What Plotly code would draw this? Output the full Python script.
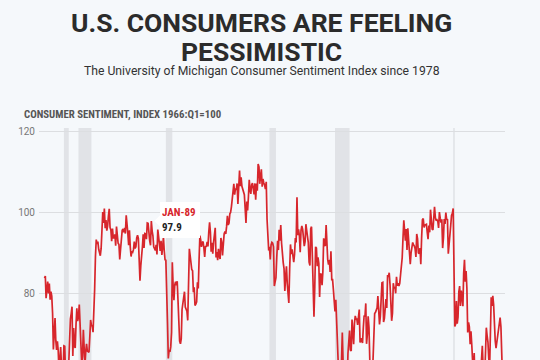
import pandas as pd
import plotly.graph_objects as go

# ---------------- data ----------------
sentiment_1978_1989 = [
    83.7, 84.3, 78.8, 81.6, 82.9, 80.0, 82.4, 78.4, 80.4, 79.3, 75.0, 66.1,
    72.1, 73.9, 68.4, 66.0, 68.1, 65.8, 60.4, 64.5, 66.7, 62.1, 63.3, 61.0,
    67.0, 66.9, 56.5, 52.7, 51.7, 58.7, 62.3, 67.3, 73.7, 75.0, 76.7, 64.5,
    71.4, 66.9, 66.5, 72.4, 76.3, 73.1, 74.1, 77.2, 73.1, 70.3, 62.5, 64.3,
    71.0, 66.5, 62.0, 65.5, 67.5, 65.7, 65.4, 65.4, 69.3, 73.4, 72.1, 71.9,
    70.4, 74.6, 80.8, 89.1, 93.3, 92.2, 92.8, 90.9, 89.9, 89.3, 91.1, 94.2,
    100.1, 97.4, 101.0, 96.1, 98.1, 95.5, 96.6, 99.1, 100.9, 96.3, 95.7, 92.9,
    96.0, 93.7, 93.7, 94.6, 91.8, 96.5, 94.0, 92.4, 92.1, 88.4, 90.9, 93.9,
    95.6, 95.9, 95.1, 96.2, 94.8, 99.3, 97.7, 94.9, 91.9, 95.6, 91.4, 89.1,
    90.4, 90.2, 90.8, 92.8, 91.1, 91.5, 93.7, 94.4, 93.6, 89.3, 83.1, 86.8,
    90.8, 91.6, 94.6, 91.2, 94.8, 94.7, 93.4, 97.4, 97.3, 94.1, 93.0, 91.9,
    97.9, 95.4, 94.3, 91.5, 90.7, 90.6, 92.0, 89.6, 95.8, 93.9, 90.9, 90.5,
]
sentiment_1990_2001 = [
    93.0, 89.5, 91.3, 93.9, 90.6, 88.3, 88.2, 76.4, 72.8, 63.9, 66.0, 65.5,
    66.8, 70.4, 87.7, 81.8, 78.3, 82.1, 82.9, 82.0, 83.0, 78.3, 69.1, 68.2,
    67.5, 68.8, 76.0, 77.2, 79.2, 80.4, 76.6, 76.1, 75.6, 73.3, 85.3, 91.0,
    89.3, 86.6, 85.9, 85.6, 80.3, 81.5, 77.0, 77.3, 77.9, 82.7, 81.2, 88.2,
    94.3, 93.2, 91.5, 92.6, 92.8, 91.2, 89.0, 91.7, 91.5, 92.7, 91.6, 95.1,
    97.6, 95.1, 90.3, 92.5, 89.8, 92.7, 94.4, 96.2, 88.9, 90.2, 88.2, 91.0,
    89.3, 88.5, 93.7, 92.7, 89.4, 92.4, 94.7, 95.3, 94.7, 96.5, 99.2, 96.9,
    97.4, 99.7, 100.0, 101.4, 103.2, 104.5, 107.1, 104.4, 106.0, 105.6, 107.2, 102.1,
    106.6, 110.4, 106.5, 108.7, 106.5, 105.6, 105.2, 104.4, 100.9, 97.4, 102.7, 100.5,
    103.9, 108.1, 105.7, 104.6, 106.8, 107.3, 106.0, 104.5, 107.2, 103.2, 107.2, 105.4,
    112.0, 111.3, 107.1, 109.2, 110.7, 106.4, 108.3, 107.3, 106.8, 105.8, 107.6, 98.4,
    94.7, 90.6, 91.5, 88.4, 92.0, 92.6, 92.4, 91.5, 81.8, 82.7, 83.9, 88.8,
]
sentiment_2002_2013 = [
    93.0, 90.7, 95.7, 93.0, 96.9, 92.4, 88.1, 87.6, 86.1, 80.6, 84.2, 86.7,
    82.4, 79.9, 77.6, 86.0, 92.1, 89.7, 90.9, 89.3, 87.7, 89.6, 93.7, 92.6,
    103.8, 94.4, 95.8, 94.2, 90.2, 95.6, 96.7, 95.9, 94.2, 91.7, 92.8, 97.1,
    95.5, 94.1, 92.6, 87.7, 86.9, 96.0, 96.5, 89.1, 76.9, 74.2, 81.6, 91.5,
    91.2, 86.7, 88.9, 87.4, 79.1, 84.9, 84.7, 82.0, 85.4, 93.6, 92.1, 91.7,
    96.9, 91.3, 88.4, 87.1, 88.3, 85.3, 90.4, 83.4, 83.4, 80.9, 76.1, 75.5,
    78.4, 70.8, 69.5, 62.6, 59.8, 56.4, 61.2, 63.0, 70.3, 57.6, 55.3, 60.1,
    61.2, 56.3, 57.3, 65.1, 68.7, 70.8, 66.0, 65.7, 73.5, 70.6, 67.4, 72.5,
    74.4, 73.6, 73.6, 72.2, 73.6, 76.0, 67.8, 68.9, 68.2, 67.7, 71.6, 74.5,
    74.2, 77.5, 67.5, 69.8, 74.3, 71.5, 63.7, 55.8, 59.5, 60.8, 63.7, 69.9,
    75.0, 75.3, 76.2, 76.4, 79.3, 73.2, 72.3, 74.3, 78.3, 82.6, 82.7, 72.9,
    73.8, 77.6, 78.6, 76.4, 84.5, 84.1, 85.1, 82.1, 77.5, 73.2, 75.1, 82.5,
]
sentiment_2014_2025 = [
    81.2, 81.6, 80.0, 84.1, 81.9, 82.5, 81.8, 82.5, 84.6, 86.9, 88.8, 93.6,
    98.1, 95.4, 93.0, 95.9, 90.7, 96.1, 93.1, 91.9, 87.2, 90.0, 91.3, 92.6,
    92.0, 91.7, 91.0, 89.0, 94.7, 93.5, 90.0, 89.8, 91.2, 87.2, 93.8, 98.2,
    98.5, 96.3, 96.9, 97.0, 97.1, 95.1, 93.4, 96.8, 95.1, 100.7, 98.5, 95.9,
    95.7, 99.7, 101.4, 98.8, 98.0, 98.2, 97.9, 96.2, 100.1, 98.6, 97.5, 98.3,
    91.2, 93.8, 98.4, 97.2, 100.0, 98.2, 98.4, 89.8, 93.2, 95.5, 96.8, 99.3,
    99.8, 101.0, 89.1, 71.8, 72.3, 78.1, 72.5, 74.1, 80.4, 81.8, 76.9, 80.7,
    79.0, 76.8, 84.9, 88.3, 82.9, 85.5, 81.2, 70.3, 72.8, 71.7, 67.4, 70.6,
    67.2, 62.8, 59.4, 65.2, 58.4, 50.0, 51.5, 58.2, 58.6, 59.9, 56.8, 59.7,
    64.9, 67.0, 62.0, 63.5, 59.2, 64.4, 71.5, 69.5, 67.9, 63.8, 61.3, 69.7,
    79.0, 76.9, 79.4, 77.2, 69.1, 68.2, 66.4, 67.9, 70.1, 70.5, 71.8, 74.0,
    71.7, 64.7, 57.0, 52.2,
]
sentiment = sentiment_1978_1989 + sentiment_1990_2001 + sentiment_2002_2013 + sentiment_2014_2025
months = pd.date_range("1978-01-01", periods=len(sentiment), freq="MS")

recession_starts = ["1980-01-01", "1981-07-01", "1990-07-01", "2001-03-01", "2007-12-01", "2020-02-01"]
recession_ends = ["1980-07-01", "1982-11-01", "1991-03-01", "2001-11-01", "2009-06-01", "2020-04-01"]

y_ticks = [40, 60, 80, 100, 120]
x_ticks = ["1980-01-01", "1990-01-01", "2000-01-01", "2010-01-01", "2020-01-01"]
x_tick_labels = ["1980", "1990", "2000", "2010", "2020"]

highlight_date = "1989-01-01"
highlight_label = "JAN-89"

title_line1 = "U.S. CONSUMERS ARE FEELING"
title_line2 = "PESSIMISTIC"
subtitle = "The University of Michigan Consumer Sentiment Index since 1978"
y_title = "CONSUMER SENTIMENT, INDEX 1966:Q1=100"

# ---------------- styling ----------------
BG = "#f5f8fb"
RED = "#d7262c"
BAND = "#e1e3e7"
GRID = "#dcdee1"
TITLE_FONT = "Roboto, Inter, 'Liberation Sans', sans-serif"
NARROW_FONT = "'Liberation Sans Narrow', 'Roboto Condensed', 'DejaVu Sans Condensed', Roboto, sans-serif"

W = 540
H = 500
M_L, M_R = 39, 35
M_TOP = 128
M_BOT = 45
PX_PER_UNIT = 4.04
Y_TOP = 120.92
TEXT_CENTER_PX = 261.5  # horizontal centre of the heading block
title_x = (TEXT_CENTER_PX - M_L) / (W - M_L - M_R)

fig = go.Figure()

fig.add_trace(go.Scatter(
    x=months, y=sentiment, mode="lines",
    line=dict(color=RED, width=1.7),
    hoverinfo="skip", showlegend=False,
))

for s, e in zip(recession_starts, recession_ends):
    fig.add_shape(type="rect", xref="x", yref="paper", x0=s, x1=e, y0=0, y1=1,
                  fillcolor=BAND, line=dict(width=0), layer="below")

# highlight tooltip
hi = list(months.strftime("%Y-%m-%d")).index(highlight_date)
hv = sentiment[hi]
fig.add_shape(type="path", xref="x", yref="y", xsizemode="pixel", ysizemode="pixel",
              xanchor=months[hi], yanchor=hv,
              path="M 3,0 L 10,7 L 10,-7 Z",
              fillcolor="white", line=dict(width=0), layer="above")
fig.add_annotation(
    x=months[hi], y=hv, xref="x", yref="y", showarrow=False,
    xanchor="left", yanchor="middle", xshift=9, yshift=1,
    text=f"<b><span style='color:{RED}'>{highlight_label}</span></b><br><b>{hv:.1f}</b>",
    align="left", width=36, height=32, borderpad=2,
    bgcolor="white", bordercolor="white", borderwidth=0,
    font=dict(family=NARROW_FONT, size=11, color="#222222"),
)

# titles
fig.add_annotation(xref="paper", yref="paper", x=title_x, y=1, xanchor="center", yanchor="middle",
                   yshift=M_TOP - 22, showarrow=False, text=f"<b>{title_line1}</b>",
                   height=28, borderpad=0,
                   font=dict(family=TITLE_FONT, size=26.5, color="#2b2b2b"))
fig.add_annotation(xref="paper", yref="paper", x=title_x, y=1, xanchor="center", yanchor="middle",
                   yshift=M_TOP - 50.5, showarrow=False, text=f"<b>{title_line2}</b>",
                   height=28, borderpad=0,
                   font=dict(family=TITLE_FONT, size=26.5, color="#2b2b2b"))
fig.add_annotation(xref="paper", yref="paper", x=title_x, y=1, xanchor="center", yanchor="middle",
                   yshift=M_TOP - 71, showarrow=False, text=subtitle,
                   font=dict(family=TITLE_FONT, size=12.2, color="#333333"))
fig.add_annotation(xref="paper", yref="paper", x=0, y=1, xanchor="left", yanchor="middle",
                   xshift=-17, yshift=M_TOP - 114, showarrow=False, text=f"<b>{y_title}</b>",
                   font=dict(family=NARROW_FONT, size=10.8, color="#555555"))

fig.update_layout(
    width=W, height=H,
    margin=dict(l=M_L, r=M_R, t=M_TOP, b=M_BOT, pad=0),
    paper_bgcolor=BG, plot_bgcolor=BG,
    showlegend=False,
)
fig.update_xaxes(
    range=["1977-06-08", "2025-06-03"],
    showgrid=False, zeroline=False, showline=False, ticks="",
    tickvals=x_ticks, ticktext=x_tick_labels,
    tickfont=dict(family=TITLE_FONT, size=10, color="#777777"),
)
fig.update_yaxes(
    range=[Y_TOP - (H - M_TOP - M_BOT) / PX_PER_UNIT, Y_TOP],
    tickvals=y_ticks, showgrid=True, gridcolor=GRID, gridwidth=1,
    zeroline=False, showline=False, ticks="", ticklabelstandoff=3,
    tickfont=dict(family=TITLE_FONT, size=10, color="#777777"),
)

fig.write_html("out.html")
